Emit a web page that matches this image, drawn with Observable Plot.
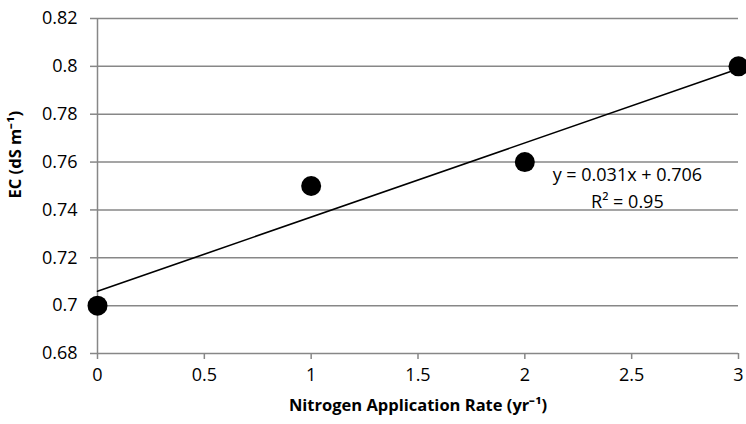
<!DOCTYPE html>
<html><head><meta charset="utf-8">
<script src="https://cdn.jsdelivr.net/npm/d3@7"></script>
<script src="https://cdn.jsdelivr.net/npm/@observablehq/plot@0.6"></script>
<style>
html,body{margin:0;padding:0;background:#fff;}
svg{font-family:"Open Sans",sans-serif;}
</style></head>
<body><div id="chart"></div>
<script>
const rates = [0, 1, 2, 3];
const ec = [0.70, 0.75, 0.76, 0.80];
const slope = 0.031, intercept = 0.706;
const xTicks = [0, 0.5, 1, 1.5, 2, 2.5, 3];
const yTicks = [0.68, 0.70, 0.72, 0.74, 0.76, 0.78, 0.80, 0.82];
const eqLabels = ["y = 0.031x + 0.706", "R² = 0.95"];
const eqPos = {x: 2.48, y1: 0.7544, y2: 0.7431};
const yTitlePos = 0.7448;

const pts = rates.map((r, i) => ({x: r, y: ec[i]}));
const trend = [0, 3].map(x => ({x, y: intercept + slope * x}));
const ann = [{x: eqPos.x, y: eqPos.y1, t: eqLabels[0]}, {x: eqPos.x, y: eqPos.y2, t: eqLabels[1]}];
const fmt = d => String(+d.toFixed(2));

const chart = Plot.plot({
  width: 746, height: 424,
  marginLeft: 97, marginRight: 8, marginTop: 18, marginBottom: 71,
  style: {fontFamily: "'Open Sans', sans-serif", color: "#000", overflow: "visible"},
  x: {domain: [0, 3], label: null},
  y: {domain: [0.68, 0.82], label: null},
  marks: [
    Plot.gridY(yTicks, {stroke: "#878787", strokeOpacity: 1, strokeWidth: 1.5}),
    Plot.ruleX([0], {stroke: "#878787", strokeWidth: 1.5}),
    Plot.axisX({ticks: xTicks, tickFormat: fmt, tickSize: 6, tickPadding: 9, stroke: "#878787", strokeWidth: 1.5, fill: "#000", fontSize: 18, label: null}),
    Plot.axisY({ticks: yTicks, tickFormat: fmt, tickSize: 7, tickPadding: 13, stroke: "#878787", strokeWidth: 1.5, fill: "#000", fontSize: 18, label: null}),
    Plot.line(trend, {x: "x", y: "y", stroke: "#000", strokeWidth: 1.6}),
    Plot.dot(pts, {x: "x", y: "y", r: 10, fill: "#000", stroke: "none"}),
    Plot.text(ann, {x: "x", y: "y", text: "t", fontSize: 18, fill: "#000"}),
    Plot.text(["Nitrogen Application Rate (yr⁻¹)"], {frameAnchor: "bottom", dy: 57, fontWeight: "bold", fontSize: 16.5, fill: "#000"}),
    Plot.text(["EC (dS m⁻¹)"], {y: [yTitlePos], frameAnchor: "left", dx: -82, rotate: -90, fontWeight: "bold", fontSize: 16.5, fill: "#000"})
  ]
});
document.getElementById("chart").appendChild(chart);
</script></body></html>
